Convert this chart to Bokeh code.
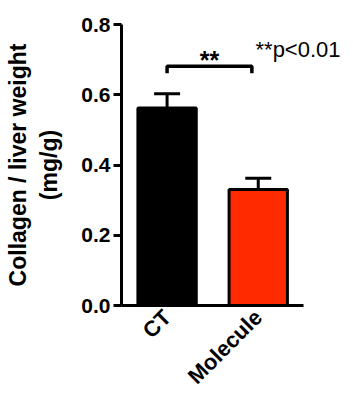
import math
from bokeh.plotting import figure
from bokeh.models import (ColumnDataSource, Range1d, FixedTicker, Whisker, TeeHead,
                          Label, PrintfTickFormatter)
from bokeh.embed import file_html
from bokeh.resources import INLINE

# ---- data ----
categories = ["CT", "Molecule"]
means = [0.562, 0.330]
sem = [0.041, 0.032]
colors = ["#000000", "#FF2A00"]
y_ticks = [0.0, 0.2, 0.4, 0.6, 0.8]
y_label = "Collagen / liver weight\n(mg/g)"
sig_mark = "**"
sig_note = "**p<0.01"

FONT = "Liberation Sans"

n = len(categories)
xpos = [i + 0.5 for i in range(n)]
src = ColumnDataSource(dict(
    x=xpos, y=means, upper=[m + s for m, s in zip(means, sem)], color=colors))

# frame extends to the right so the note is not clipped; the axis line stops at n
p = figure(width=353, height=400, output_backend="svg", toolbar_location=None,
           x_range=Range1d(0, n * 1.245), y_range=Range1d(y_ticks[0], y_ticks[-1]),
           min_border_left=121, min_border_right=5, min_border_top=24, min_border_bottom=92)
p.outline_line_color = None
p.xgrid.visible = False
p.ygrid.visible = False
p.background_fill_color = "white"
p.border_fill_color = "white"

# error bars (upper only)
wh = Whisker(base="x", lower="y", upper="upper", source=src, dimension="height",
             line_color="black", line_width=3,
             upper_head=TeeHead(size=26, line_color="black", line_width=3), lower_head=None)
p.add_layout(wh)

p.vbar(x="x", top="y", width=0.64, fill_color="color", line_color="black",
       line_width=3, source=src)

# significance bracket
bx0 = xpos[0]
bx1 = xpos[1] - 0.07
by = 0.681
bdrop = 0.02
p.line([bx0, bx0, bx1, bx1], [by - bdrop, by, by, by - bdrop], line_color="black",
       line_width=3.5)
p.add_layout(Label(x=(bx0 + bx1) / 2, y=by + 0.018, text=sig_mark, text_align="center",
                   text_baseline="alphabetic", text_font=FONT, text_font_size="25px",
                   text_font_style="bold", text_color="black"))
p.add_layout(Label(x=1.47, y=0.728, text=sig_note, text_align="left",
                   text_baseline="alphabetic", text_font=FONT, text_font_size="22px",
                   text_color="black"))

# axes
for ax in (p.xaxis[0], p.yaxis[0]):
    ax.axis_line_width = 3
    ax.axis_line_color = "black"
    ax.major_tick_line_width = 3
    ax.major_tick_line_color = "black"
    ax.minor_tick_line_color = None
    ax.major_tick_in = 0
    ax.major_label_text_font = FONT
    ax.major_label_text_font_style = "bold"
    ax.major_label_text_font_size = "21px"
    ax.major_label_text_color = "black"

p.xaxis.bounds = (0, n)

p.yaxis.ticker = FixedTicker(ticks=y_ticks)
p.yaxis.formatter = PrintfTickFormatter(format="%.1f")
p.yaxis.major_tick_out = 8
p.yaxis.major_label_standoff = 3
p.yaxis.axis_label = y_label
p.yaxis.axis_label_text_font = FONT
p.yaxis.axis_label_text_font_style = "bold"
p.yaxis.axis_label_text_font_size = "23px"
p.yaxis.axis_label_text_color = "black"
p.yaxis.axis_label_standoff = 16

p.xaxis.ticker = FixedTicker(ticks=xpos)
p.xaxis.major_label_overrides = {x: c for x, c in zip(xpos, categories)}
p.xaxis.major_tick_out = 0
p.xaxis.major_label_orientation = math.pi / 4
p.xaxis.major_label_standoff = 8
p.xaxis.major_label_text_font_size = "22px"

open("out.html", "w").write(file_html(p, INLINE))
